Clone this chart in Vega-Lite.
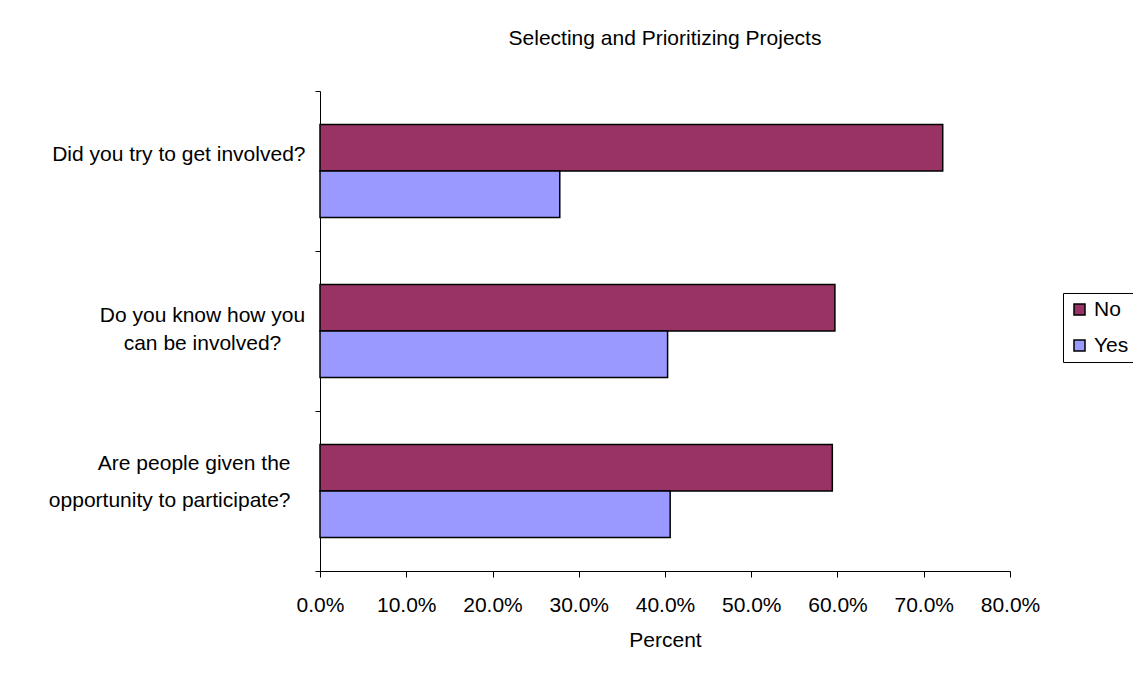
{
  "$schema": "https://vega.github.io/schema/vega-lite/v6.json",
  "width": 690,
  "height": 480,
  "padding": {"left": 5, "top": 28, "right": 5, "bottom": 5},
  "background": "white",
  "title": {"text": "Selecting and Prioritizing Projects", "fontSize": 21, "font": "Liberation Sans", "fontWeight": "normal", "color": "black", "offset": 31, "anchor": "middle"},
  "data": {"values": [
    {"question": "Did you try to get involved?", "answer": "No", "percent": 0.722},
    {"question": "Did you try to get involved?", "answer": "Yes", "percent": 0.278},
    {"question": "Do you know how you can be involved?", "answer": "No", "percent": 0.597},
    {"question": "Do you know how you can be involved?", "answer": "Yes", "percent": 0.403},
    {"question": "Are people given the opportunity to participate?", "answer": "No", "percent": 0.594},
    {"question": "Are people given the opportunity to participate?", "answer": "Yes", "percent": 0.406}
  ]},
  "mark": {"type": "bar", "stroke": "black", "strokeWidth": 1.5},
  "encoding": {
    "y": {
      "field": "question", "type": "nominal",
      "sort": ["Did you try to get involved?", "Do you know how you can be involved?", "Are people given the opportunity to participate?"],
      "scale": {"paddingInner": 0, "paddingOuter": 0},
      "axis": {
        "title": null, "tickBand": "extent", "domainColor": "black", "tickColor": "black", "tickSize": 5,
        "labelFont": "Liberation Sans", "labelFontSize": 21, "labelColor": "black",
        "labelLineHeight": {"expr": "datum.value == 'Are people given the opportunity to participate?' ? 37 : 28"},
        "minExtent": 315, "maxExtent": 315, "labelLimit": 400,
        "labelAlign": {"condition": {"test": "datum.value == 'Do you know how you can be involved?'", "value": "center"}, "value": "right"},
        "labelPadding": {"condition": [
          {"test": "datum.value == 'Do you know how you can be involved?'", "value": 113},
          {"test": "datum.value == 'Are people given the opportunity to participate?'", "value": 25}
        ], "value": 10},
        "labelOffset": {"condition": [
          {"test": "datum.value == 'Did you try to get involved?'", "value": -17},
          {"test": "datum.value == 'Do you know how you can be involved?'", "value": -16}
        ], "value": -28},
        "labelExpr": "datum.value == 'Do you know how you can be involved?' ? ['Do you know how you', 'can be involved?'] : datum.value == 'Are people given the opportunity to participate?' ? ['Are people given the', 'opportunity to participate?'] : datum.value"
      }
    },
    "yOffset": {"field": "answer", "type": "nominal", "sort": ["No", "Yes"], "scale": {"paddingInner": 0, "paddingOuter": 0.724}},
    "x": {
      "field": "percent", "type": "quantitative",
      "scale": {"domain": [0, 0.8], "nice": false},
      "axis": {
        "title": "Percent", "values": [0, 0.1, 0.2, 0.3, 0.4, 0.5, 0.6, 0.7, 0.8], "format": ".1%",
        "grid": false, "domainColor": "black", "tickColor": "black", "tickSize": 6, "labelFlush": false,
        "labelFont": "Liberation Sans", "labelFontSize": 21, "labelColor": "black", "labelPadding": 17,
        "titleFont": "Liberation Sans", "titleFontSize": 21, "titleFontWeight": "normal", "titleColor": "black", "titlePadding": 14
      }
    },
    "color": {
      "field": "answer", "type": "nominal",
      "scale": {"domain": ["No", "Yes"], "range": ["#993366", "#9999FF"]},
      "legend": {
        "title": null, "orient": "none", "legendX": 743, "legendY": 202,
        "strokeColor": "black", "padding": 6, "fillColor": "white",
        "symbolType": "square", "symbolStrokeColor": "black", "symbolStrokeWidth": 1.5, "symbolSize": 121,
        "labelFont": "Liberation Sans", "labelFontSize": 21, "labelColor": "black", "rowPadding": 14, "labelOffset": 4
      }
    }
  },
  "config": {"view": {"stroke": null}}
}
